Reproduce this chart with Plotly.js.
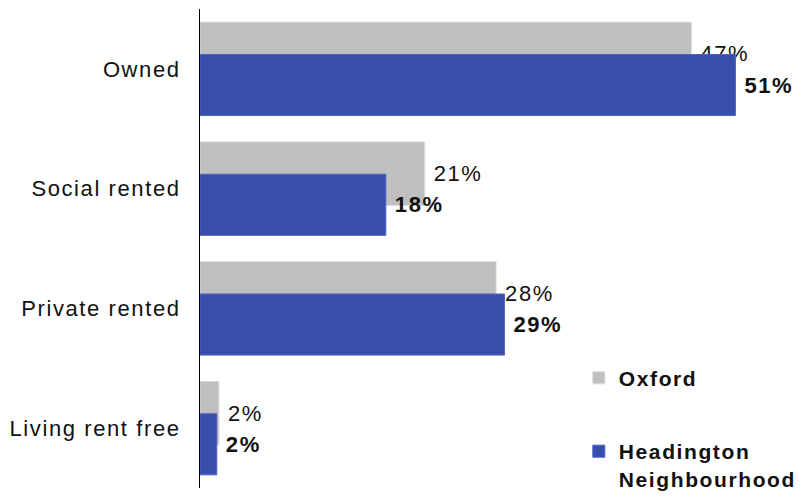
<!DOCTYPE html>
<html>
<head>
<meta charset="utf-8">
<script src="https://cdn.plot.ly/plotly-3.0.1.min.js"></script>
<style>
  html, body { margin: 0; padding: 0; background: #fff; }
  #chart { width: 811px; height: 499px; }
  svg text { letter-spacing: 1.6px; }
</style>
</head>
<body>
<div id="chart"></div>
<script>
const categories = ["Owned", "Social rented", "Private rented", "Living rent free"];
const oxfordValues = [46.8, 21.4, 28.2, 1.8];
const headingtonValues = [51, 17.7, 29, 1.6];
const oxfordLabels = ["47%", "21%", "28%", "2%"];
const headingtonLabels = ["51%", "18%", "29%", "2%"];
const seriesNames = ["Oxford", "Headington<br>Neighbourhood"];

const font = "Liberation Sans, Arial, sans-serif";

const oxford = {
  type: "bar",
  orientation: "h",
  name: seriesNames[0],
  legendgroup: "a",
  y: categories,
  x: oxfordValues,
  offset: -0.39,
  width: 0.53,
  marker: { color: "#BFBFBF", line: { color: "#D9D9D9", width: 1 } },
  text: oxfordLabels.map(s => "\u2009" + s),
  textposition: "outside",
  textfont: { family: font, size: 22, color: "#111" },
  constraintext: "none",
  cliponaxis: false,
  hoverinfo: "skip"
};

const headington = {
  type: "bar",
  orientation: "h",
  name: seriesNames[1],
  legendgroup: "b",
  y: categories,
  x: headingtonValues,
  offset: -0.12,
  width: 0.51,
  marker: { color: "#384EAD", line: { color: "#4C61C2", width: 1 } },
  text: headingtonLabels.map(s => "\u2009" + s),
  textposition: "outside",
  textfont: { family: font, size: 22, color: "#111", weight: "bold" },
  constraintext: "none",
  cliponaxis: false,
  hoverinfo: "skip"
};

const layout = {
  width: 811,
  height: 499,
  margin: { l: 200, r: 0, t: 9, b: 9 },
  paper_bgcolor: "#fff",
  plot_bgcolor: "#fff",
  barmode: "overlay",
  showlegend: true,
  legend: {
    x: 0.62, xanchor: "left",
    y: 0.272, yanchor: "top",
    traceorder: "grouped",
    tracegroupgap: 43,
    valign: "top",
    font: { family: font, size: 21, color: "#111", weight: "bold" },
    bgcolor: "rgba(0,0,0,0)"
  },
  xaxis: {
    range: [0, 58.2],
    showgrid: false,
    zeroline: false,
    showticklabels: false,
    showline: false,
    ticks: ""
  },
  yaxis: {
    type: "category",
    range: [3.5, -0.5],
    showgrid: false,
    zeroline: false,
    showline: true,
    linecolor: "#000",
    linewidth: 1,
    ticks: "",
    ticklabelstandoff: 14,
    tickfont: { family: font, size: 22, color: "#111" }
  },
  font: { family: font }
};

Plotly.newPlot("chart", [oxford, headington], layout, { staticPlot: true });
</script>
</body>
</html>
